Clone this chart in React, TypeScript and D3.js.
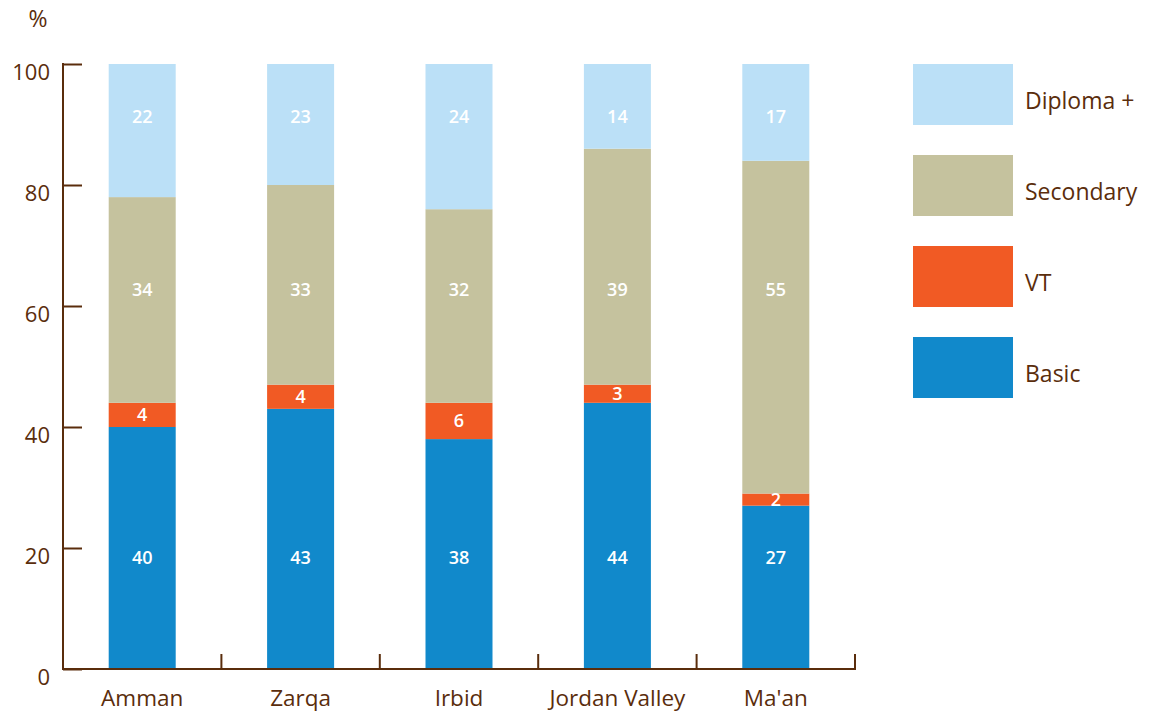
import React, { useEffect, useRef } from "react";
import * as d3 from "d3";

const regions = ["Amman", "Zarqa", "Irbid", "Jordan Valley", "Ma'an"];
const basic = [40, 43, 38, 44, 27];
const vt = [4, 4, 6, 3, 2];
const secondary = [34, 33, 32, 39, 55];
const diploma = [22, 23, 24, 14, 17];
const yTicks = [0, 20, 40, 60, 80, 100];

const seriesKeys = ["Basic", "VT", "Secondary", "Diploma +"];
const seriesColors = ["#1189cb", "#f15a24", "#c5c29e", "#bbe0f7"];
// label height (in % units) per series; null = centred in segment
const labelLevels = [18.5, null, 62.8, 91.4];
const brown = "#5a2d0c";
const font = "'Open Sans', 'Noto Sans', sans-serif";

const App = () => {
  const svgRef = useRef<SVGSVGElement>(null);

  useEffect(() => {
    const svg = d3.select(svgRef.current);
    svg.selectAll("*").remove();

    const width = 1149;
    const height = 715;
    svg.attr("width", width).attr("height", height);

    const left = 63;
    const right = 855;
    const top = 64;
    const bottom = 669;

    const table = regions.map((r, i) => ({
      region: r,
      Basic: basic[i],
      VT: vt[i],
      Secondary: secondary[i],
      "Diploma +": diploma[i],
    }));

    const stacked = d3.stack<any>().keys(seriesKeys)(table);

    const x = d3.scaleBand().domain(regions).range([left, right]).padding(0);
    const y = d3.scaleLinear().domain([0, 100]).range([bottom, top]);
    const barW = x.bandwidth() * 0.423;

    // Bars
    stacked.forEach((layer, li) => {
      const g = svg.append("g");
      layer.forEach((d, i) => {
        const y0 = Math.min(d[0], 100);
        const y1 = Math.min(d[1], 100);
        const cx = x(regions[i])! + x.bandwidth() / 2;
        g.append("rect")
          .attr("x", cx - barW / 2)
          .attr("y", y(y1))
          .attr("width", barW)
          .attr("height", y(y0) - y(y1))
          .attr("fill", seriesColors[li]);
      });
    });

    // Value labels
    stacked.forEach((layer, li) => {
      layer.forEach((d, i) => {
        const y0 = Math.min(d[0], 100);
        const y1 = Math.min(d[1], 100);
        const cx = x(regions[i])! + x.bandwidth() / 2;
        const lvl = labelLevels[li];
        svg.append("text")
          .attr("x", cx)
          .attr("y", lvl == null ? y((y0 + y1) / 2) : y(lvl))
          .attr("dy", "0.36em")
          .attr("text-anchor", "middle")
          .attr("fill", "#fff")
          .attr("font-family", font)
          .attr("font-weight", 600)
          .attr("font-size", 18)
          .text(d[1] - d[0]);
      });
    });

    // Y axis
    const yAxis = svg.append("g").attr("transform", `translate(${left},0)`)
      .call(d3.axisRight(y).tickValues(yTicks).tickSize(19).tickFormat(() => ""));
    yAxis.select(".domain").remove();
    yAxis.selectAll("line").attr("stroke", brown).attr("stroke-width", 2);
    svg.append("line")
      .attr("x1", left).attr("x2", left).attr("y1", top - 1).attr("y2", bottom + 1)
      .attr("stroke", brown).attr("stroke-width", 2);

    svg.append("g")
      .selectAll("text")
      .data(yTicks)
      .enter()
      .append("text")
      .attr("x", 50)
      .attr("y", (d) => y(d) + 8)
      .attr("dy", "0.36em")
      .attr("text-anchor", "end")
      .attr("fill", brown)
      .attr("font-family", font)
      .attr("font-size", 22)
      .text((d) => d);

    svg.append("text")
      .attr("x", 38)
      .attr("y", 27)
      .attr("text-anchor", "middle")
      .attr("fill", brown)
      .attr("font-family", font)
      .attr("font-size", 23)
      .text("%");

    // X axis
    svg.append("line")
      .attr("x1", left - 1).attr("x2", right + 1).attr("y1", bottom).attr("y2", bottom)
      .attr("stroke", brown).attr("stroke-width", 2);
    const bounds = regions.map((r) => x(r)!).concat([right]).slice(1);
    svg.append("g")
      .selectAll("line")
      .data(bounds)
      .enter()
      .append("line")
      .attr("x1", (d) => d).attr("x2", (d) => d)
      .attr("y1", bottom - 15).attr("y2", bottom)
      .attr("stroke", brown).attr("stroke-width", 2);

    svg.append("g")
      .selectAll("text")
      .data(regions)
      .enter()
      .append("text")
      .attr("x", (d) => x(d)! + x.bandwidth() / 2)
      .attr("y", 706)
      .attr("text-anchor", "middle")
      .attr("fill", brown)
      .attr("font-family", font)
      .attr("font-size", 22.5)
      .text((d) => d);

    // Legend (top to bottom: Diploma +, Secondary, VT, Basic)
    const legendOrder = [3, 2, 1, 0];
    const leg = svg.append("g");
    legendOrder.forEach((k, i) => {
      const ly = 64 + i * 91;
      leg.append("rect")
        .attr("x", 913).attr("y", ly).attr("width", 100).attr("height", 61)
        .attr("fill", seriesColors[k]);
      leg.append("text")
        .attr("x", 1025).attr("y", ly + 37)
        .attr("dy", "0.36em")
        .attr("fill", brown)
        .attr("font-family", font)
        .attr("font-size", 23)
        .text(seriesKeys[k]);
    });
  }, []);

  return <svg ref={svgRef} style={{ position: "absolute", left: 0, top: 0 }}></svg>;
};

export default App;
